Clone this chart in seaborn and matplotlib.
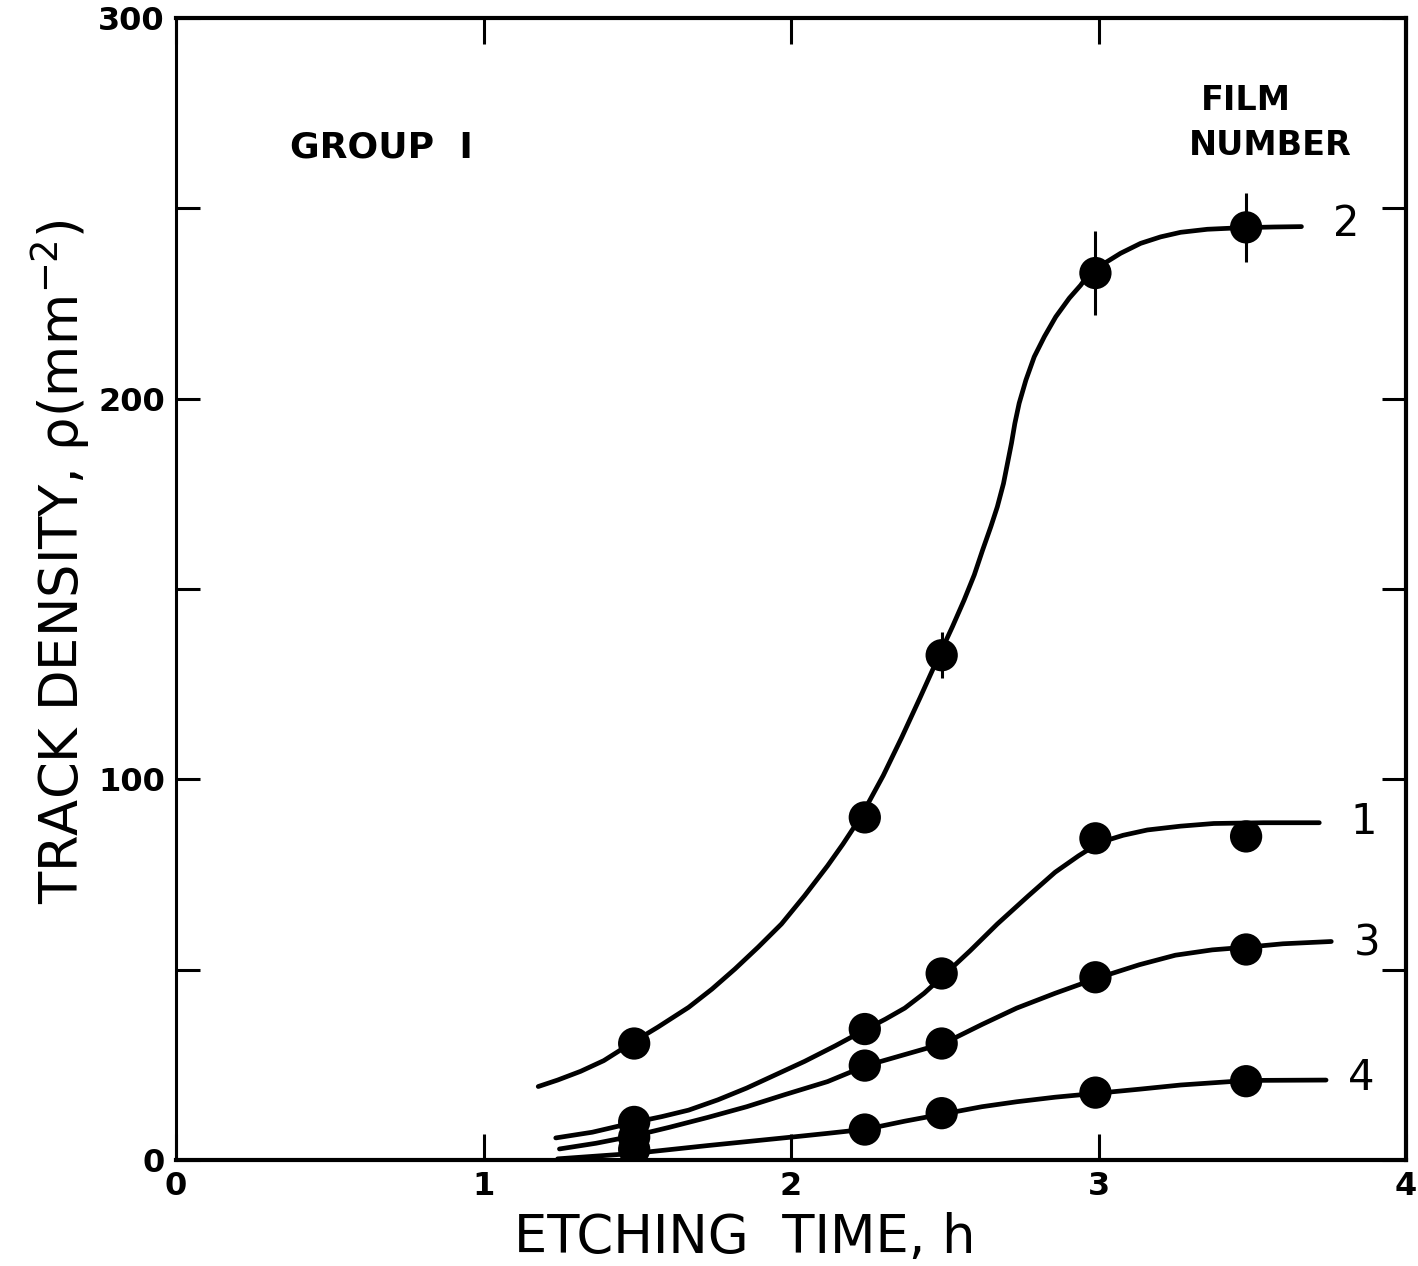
import matplotlib
matplotlib.use("Agg")
import matplotlib.pyplot as plt
import seaborn as sns
import pandas as pd
from matplotlib.ticker import MultipleLocator, FixedLocator

# ---------------- data ----------------
films = ["2", "1", "3", "4"]

# measured points
pt_time = [1.49, 2.24, 2.49, 2.99, 3.48]
pt_film2 = [30.6, 90.0, 132.6, 233.0, 245.0]
pt_film1 = [10.0, 34.4, 49.0, 84.5, 85.0]
pt_film3 = [6.0, 24.8, 30.6, 48.0, 55.3]
pt_film4 = [2.8, 8.0, 12.3, 17.7, 20.7]
err_film2 = [0.0, 0.0, 6.0, 11.0, 9.0]

# hand-drawn fitted curves
c2_x = [1.178, 1.241, 1.316, 1.391, 1.479, 1.567, 1.667, 1.743, 1.818, 1.893,
        1.969, 2.044, 2.119, 2.169, 2.226, 2.30, 2.36, 2.42, 2.482, 2.525, 2.563,
        2.596, 2.623, 2.650, 2.671, 2.691, 2.704, 2.717, 2.728, 2.742, 2.764,
        2.791, 2.824, 2.861, 2.905, 2.942, 2.973, 3.018, 3.072, 3.137, 3.202,
        3.267, 3.354, 3.462, 3.571, 3.66]
c2_y = [19.3, 21.0, 23.3, 26.1, 30.6, 34.9, 40.1, 44.9, 50.2, 55.9,
        62.0, 69.4, 77.3, 83.0, 90.0, 101.0, 111.0, 121.5, 132.6, 140.1, 147.1,
        153.7, 160.2, 166.4, 171.6, 177.7, 183.0, 188.3, 193.5, 198.8, 204.9,
        211.0, 216.3, 221.5, 226.4, 229.8, 233.3, 235.5, 238.2, 240.8, 242.5,
        243.7, 244.5, 244.9, 245.1, 245.2]
c1_x = [1.235, 1.354, 1.492, 1.580, 1.667, 1.762, 1.856, 1.950, 2.044, 2.144,
        2.245, 2.307, 2.370, 2.433, 2.502, 2.583, 2.671, 2.772, 2.859, 2.935,
        3.004, 3.08, 3.159, 3.267, 3.375, 3.537, 3.718]
c1_y = [5.8, 7.3, 9.9, 11.4, 13.1, 15.8, 18.9, 22.4, 25.9, 30.0,
        34.4, 37.0, 39.9, 43.8, 48.9, 55.0, 62.0, 69.4, 75.6, 79.9,
        83.4, 85.3, 86.7, 87.7, 88.4, 88.6, 88.6]
c3_x = [1.247, 1.366, 1.492, 1.605, 1.730, 1.856, 1.981, 2.119, 2.245, 2.370,
        2.496, 2.621, 2.734, 2.859, 2.997, 3.133, 3.25, 3.37, 3.494, 3.60, 3.757]
c3_y = [2.9, 4.4, 6.4, 8.6, 11.2, 14.0, 17.2, 20.6, 24.8, 27.7,
        30.6, 35.6, 39.9, 43.8, 47.8, 51.3, 53.8, 55.2, 56.0, 56.8, 57.4]
c4_x = [1.241, 1.492, 1.730, 2.0, 2.119, 2.245, 2.370, 2.496, 2.621, 2.734,
        2.859, 3.004, 3.133, 3.267, 3.484, 3.74]
c4_y = [0.3, 1.75, 3.8, 6.0, 7.0, 8.1, 10.2, 12.1, 14.0, 15.3,
        16.5, 17.6, 18.6, 19.7, 20.9, 21.0]

x_ticks = [0, 1, 2, 3, 4]
y_ticks = [0, 100, 200, 300]

# ---------------- tables ----------------
curves = pd.concat([
    pd.DataFrame({"t": c2_x, "rho": c2_y, "film": "2"}),
    pd.DataFrame({"t": c1_x, "rho": c1_y, "film": "1"}),
    pd.DataFrame({"t": c3_x, "rho": c3_y, "film": "3"}),
    pd.DataFrame({"t": c4_x, "rho": c4_y, "film": "4"}),
], ignore_index=True)
points = pd.concat([
    pd.DataFrame({"t": pt_time, "rho": pt_film2, "film": "2"}),
    pd.DataFrame({"t": pt_time, "rho": pt_film1, "film": "1"}),
    pd.DataFrame({"t": pt_time, "rho": pt_film3, "film": "3"}),
    pd.DataFrame({"t": pt_time, "rho": pt_film4, "film": "4"}),
], ignore_index=True)

# ---------------- figure ----------------
sns.set_style("white")
plt.rcParams["font.family"] = ["DejaVu Sans"]
for k in ["text.color", "axes.labelcolor", "xtick.color", "ytick.color", "axes.edgecolor"]:
    plt.rcParams[k] = "black"

W, H = 1418, 1266
fig = plt.figure(figsize=(W / 100, H / 100), dpi=100)
ax = fig.add_axes([176 / W, 1 - 1160 / H, (1406 - 176) / W, (1160 - 18) / H])

pal = {f: "black" for f in films}
sns.lineplot(data=curves, x="t", y="rho", hue="film", palette=pal, units="film",
             estimator=None, sort=False, lw=3.4, legend=False, ax=ax,
             solid_capstyle="round", solid_joinstyle="round")
ax.errorbar(pt_time, pt_film2, yerr=err_film2, fmt="none", ecolor="black",
            elinewidth=2.2, capsize=0)
sns.scatterplot(data=points, x="t", y="rho", hue="film", palette=pal, s=540,
                edgecolor="none", legend=False, ax=ax, zorder=5)

ax.set_xlim(0, 4)
ax.set_ylim(0, 300)
ax.xaxis.set_major_locator(FixedLocator(x_ticks))
ax.yaxis.set_major_locator(FixedLocator(y_ticks))
ax.yaxis.set_minor_locator(MultipleLocator(50))
ax.set_xticklabels([str(v) for v in x_ticks])
ax.set_yticklabels([str(v) for v in y_ticks])
for s in ax.spines.values():
    s.set_visible(True)
    s.set_linewidth(3)
    s.set_color("black")
ax.spines["left"].set_linewidth(2.2)
ax.tick_params(axis="x", which="major", direction="in", length=19, width=2.2,
               top=True, bottom=True, labelsize=23, pad=8, colors="black")
ax.tick_params(axis="y", which="both", direction="in", length=17, width=2.2,
               left=True, right=True, labelsize=23, pad=8, colors="black")
for lab in ax.get_xticklabels() + ax.get_yticklabels():
    lab.set_fontweight("bold")

ax.set_xlabel("ETCHING  TIME, h", fontsize=38, va="center")
ax.xaxis.set_label_coords(0.462, -0.068)
ax.set_ylabel("TRACK DENSITY, ρ(mm$^{-2}$)", fontsize=38, va="center")
ax.yaxis.set_label_coords(-0.094, 0.524)

ax.text(0.37, 266.0, "GROUP  I", fontsize=26, fontweight="bold", ha="left", va="center")
ax.text(3.48, 278.4, "FILM", fontsize=24, fontweight="bold", ha="center", va="center")
ax.text(3.56, 266.6, "NUMBER", fontsize=24, fontweight="bold", ha="center", va="center")

label_pos = {"2": (3.806, 246.0), "1": (3.861, 88.7), "3": (3.873, 57.0), "4": (3.854, 21.5)}
for f in films:
    x, y = label_pos[f]
    ax.text(x, y, f, fontsize=30, ha="center", va="center")

fig.savefig("out.png", dpi=100)
